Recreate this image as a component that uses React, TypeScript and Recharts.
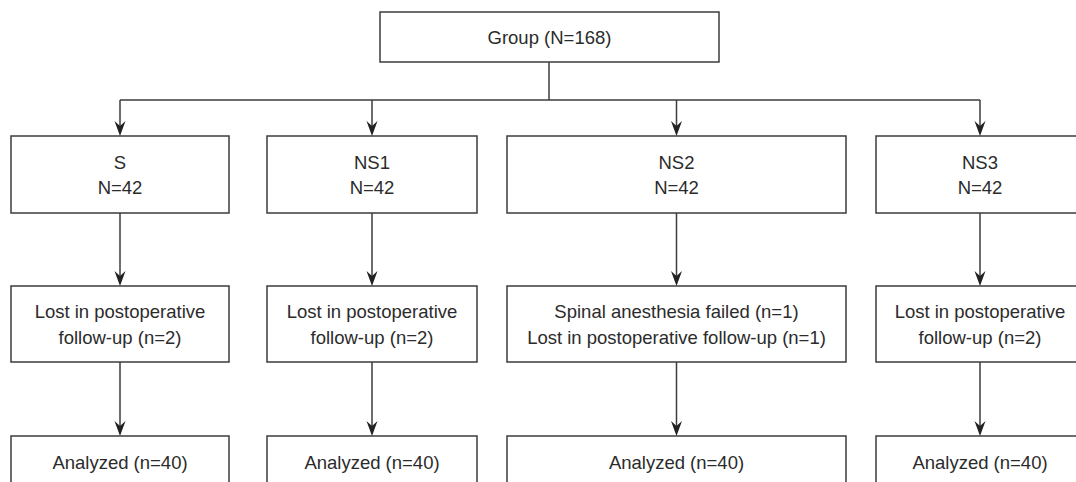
import { ScatterChart, Scatter, XAxis, YAxis, ReferenceArea, ReferenceLine } from "recharts";

// flow counts
const totalLabel = "Group (N=168)";
const groupNames = ["S", "NS1", "NS2", "NS3"];
const groupSizes = [42, 42, 42, 42];
const dropoutLines = [
  ["Lost in postoperative", "follow-up (n=2)"],
  ["Lost in postoperative", "follow-up (n=2)"],
  ["Spinal anesthesia failed (n=1)", "Lost in postoperative follow-up (n=1)"],
  ["Lost in postoperative", "follow-up (n=2)"],
];
const analyzedCounts = [40, 40, 40, 40];

// layout in chart units (1 unit = 1px)
const W = 1076;
const H = 482;
const columns = [
  [11, 229],
  [267, 477],
  [507, 846],
  [876, 1084],
];
const topBox = { x1: 380, x2: 719, y1: 12, y2: 62 };
const rows = [
  [136, 213],
  [286, 362],
  [436, 488],
];
const busY = 100;
const stemX = 549;

const LINE = "#3c3c3c";
const TEXT = "#2b2b2b";
const FONT = "'Liberation Sans', Arial, Helvetica, sans-serif";

const centerOf = (c: number[]) => (c[0] + c[1]) / 2;

function BoxText(props: any) {
  const { viewBox, lines } = props;
  const cx = viewBox.x + viewBox.width / 2;
  const cy = viewBox.y + viewBox.height / 2;
  const gap = 25.5;
  const start = cy - ((lines.length - 1) * gap) / 2;
  return (
    <text
      x={cx}
      y={start}
      textAnchor="middle"
      dominantBaseline="central"
      fill={TEXT}
      fontSize={18.5}
      fontFamily={FONT}
    >
      {lines.map((l: string, i: number) => (
        <tspan key={i} x={cx} y={start + i * gap} dominantBaseline="central">
          {l}
        </tspan>
      ))}
    </text>
  );
}

function ArrowHead(props: any) {
  const { cx, cy } = props;
  return (
    <path
      d={`M${cx},${cy} L${cx - 5.5},${cy - 15} L${cx},${cy - 10} L${cx + 5.5},${cy - 15} Z`}
      fill="#222"
    />
  );
}

const arrowTips = columns.flatMap((c) =>
  rows.map((r) => ({ x: centerOf(c), y: r[0] }))
);

export default function App() {
  return (
    <div style={{ width: W, height: H, background: "#fff" }}>
      <style>{`body{margin:0;background:#fff}`}</style>
      <ScatterChart width={W} height={H} margin={{ top: 0, right: 0, bottom: 0, left: 0 }}>
        <XAxis type="number" dataKey="x" domain={[0, W]} hide allowDataOverflow />
        <YAxis type="number" dataKey="y" domain={[0, H]} reversed hide allowDataOverflow />

        <ReferenceLine
          segment={[{ x: stemX, y: topBox.y2 }, { x: stemX, y: busY }]}
          stroke={LINE}
          strokeWidth={1.5}
          ifOverflow="visible"
        />
        <ReferenceLine
          segment={[
            { x: centerOf(columns[0]), y: busY },
            { x: centerOf(columns[3]), y: busY },
          ]}
          stroke={LINE}
          strokeWidth={1.5}
          ifOverflow="visible"
        />
        {columns.map((c, i) => (
          <ReferenceLine
            key={`a0-${i}`}
            segment={[{ x: centerOf(c), y: busY }, { x: centerOf(c), y: rows[0][0] - 4 }]}
            stroke={LINE}
            strokeWidth={1.5}
            ifOverflow="visible"
          />
        ))}
        {columns.map((c, i) => (
          <ReferenceLine
            key={`a1-${i}`}
            segment={[{ x: centerOf(c), y: rows[0][1] }, { x: centerOf(c), y: rows[1][0] - 4 }]}
            stroke={LINE}
            strokeWidth={1.5}
            ifOverflow="visible"
          />
        ))}
        {columns.map((c, i) => (
          <ReferenceLine
            key={`a2-${i}`}
            segment={[{ x: centerOf(c), y: rows[1][1] }, { x: centerOf(c), y: rows[2][0] - 4 }]}
            stroke={LINE}
            strokeWidth={1.5}
            ifOverflow="visible"
          />
        ))}

        <ReferenceArea
          x1={topBox.x1}
          x2={topBox.x2}
          y1={topBox.y1}
          y2={topBox.y2}
          fill="#fff"
          fillOpacity={1}
          stroke={LINE}
          strokeWidth={1.5}
          ifOverflow="visible"
          label={<BoxText lines={[totalLabel]} />}
        />
        {columns.map((c, i) => (
          <ReferenceArea
            key={`g-${i}`}
            x1={c[0]}
            x2={c[1]}
            y1={rows[0][0]}
            y2={rows[0][1]}
            fill="#fff"
            fillOpacity={1}
            stroke={LINE}
            strokeWidth={1.5}
            ifOverflow="visible"
            label={<BoxText lines={[groupNames[i], `N=${groupSizes[i]}`]} />}
          />
        ))}
        {columns.map((c, i) => (
          <ReferenceArea
            key={`d-${i}`}
            x1={c[0]}
            x2={c[1]}
            y1={rows[1][0]}
            y2={rows[1][1]}
            fill="#fff"
            fillOpacity={1}
            stroke={LINE}
            strokeWidth={1.5}
            ifOverflow="visible"
            label={<BoxText lines={dropoutLines[i]} />}
          />
        ))}
        {columns.map((c, i) => (
          <ReferenceArea
            key={`n-${i}`}
            x1={c[0]}
            x2={c[1]}
            y1={rows[2][0]}
            y2={rows[2][1]}
            fill="#fff"
            fillOpacity={1}
            stroke={LINE}
            strokeWidth={1.5}
            ifOverflow="visible"
            label={<BoxText lines={[`Analyzed (n=${analyzedCounts[i]})`]} />}
          />
        ))}

        <Scatter data={arrowTips} shape={<ArrowHead />} isAnimationActive={false} />
      </ScatterChart>
    </div>
  );
}
